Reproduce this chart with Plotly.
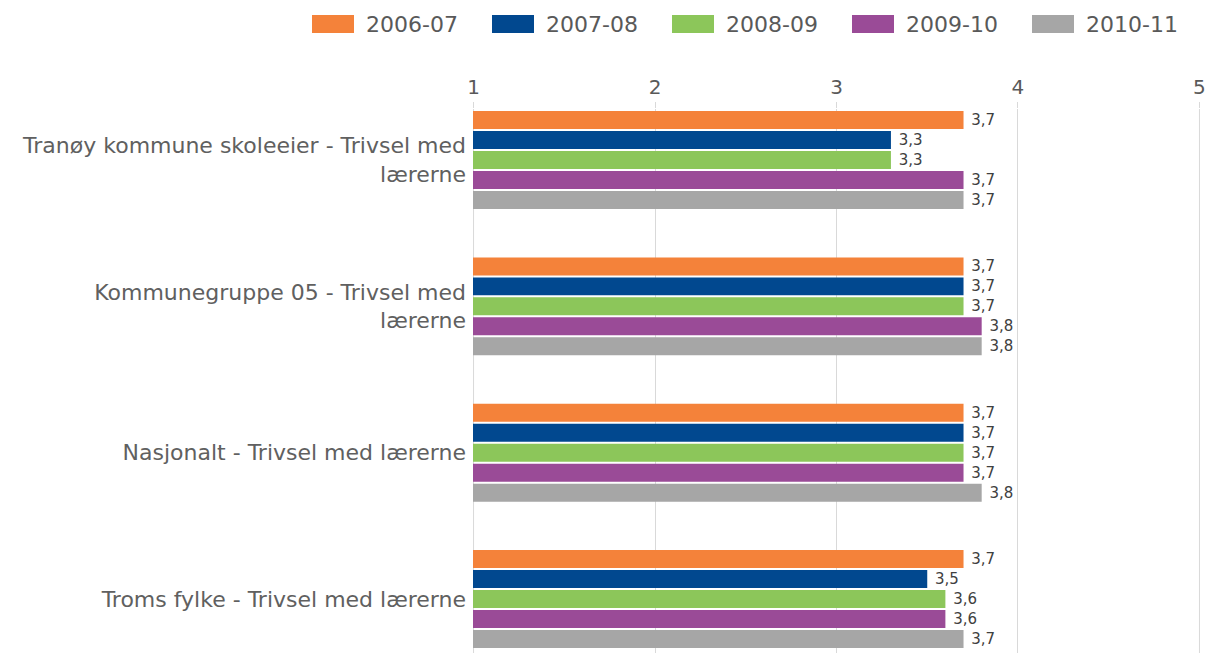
import plotly.graph_objects as go

categories = [
    "Tranøy kommune skoleeier - Trivsel med<br>lærerne",
    "Kommunegruppe 05 - Trivsel med<br>lærerne",
    "Nasjonalt - Trivsel med lærerne",
    "Troms fylke - Trivsel med lærerne",
]
series_names = ["2006-07", "2007-08", "2008-09", "2009-10", "2010-11"]
values_2006_07 = [3.7, 3.7, 3.7, 3.7]
values_2007_08 = [3.3, 3.7, 3.7, 3.5]
values_2008_09 = [3.3, 3.7, 3.7, 3.6]
values_2009_10 = [3.7, 3.8, 3.7, 3.6]
values_2010_11 = [3.7, 3.8, 3.8, 3.7]
series_values = [values_2006_07, values_2007_08, values_2008_09, values_2009_10, values_2010_11]
colors = ["#F4823A", "#01488F", "#8CC65A", "#9A4B97", "#A6A6A6"]
tick_vals = [1, 2, 3, 4, 5]

# page body has an 8px margin; figure coordinates are offset by it
W, H = 1221, 653
L, R, T, B = 465, 29, 101, 0
pw, ph = W - L - R, H - T - B

fig = go.Figure()
for name, vals, col in zip(series_names, series_values, colors):
    fig.add_trace(go.Bar(
        y=categories, x=vals, name=name, orientation="h",
        marker=dict(color=col, line=dict(width=0)),
        text=vals, texttemplate=" %{x:.1f}", textposition="outside",
        constraintext="none", cliponaxis=False,
        textfont=dict(family="DejaVu Sans", size=15, color="#404040"),
        showlegend=False,
    ))

shapes = []
annotations = []
# edge gridlines (plotly hides grid lines at the plot edges)
for v in (tick_vals[0], tick_vals[-1]):
    shapes.append(dict(type="line", xref="x", yref="paper", x0=v, x1=v, y0=0, y1=1,
                       line=dict(color="#D9D9D9", width=1), layer="below"))

# custom legend (wide swatches)
def px2x(px):
    return (px - L) / pw
def py2y(py):
    return (H - B - py) / ph
for i, (name, col) in enumerate(zip(series_names, colors)):
    x0 = 304 + 180 * i
    shapes.append(dict(type="rect", xref="paper", yref="paper",
                       x0=px2x(x0), x1=px2x(x0 + 42), y0=py2y(25), y1=py2y(7),
                       fillcolor=col, line=dict(width=0)))
    annotations.append(dict(xref="paper", yref="paper", x=px2x(x0 + 52), y=py2y(16),
                            text=name, showarrow=False, xanchor="left", yanchor="middle",
                            font=dict(family="DejaVu Sans", size=22, color="#595959")))

fig.update_layout(
    width=W, height=H,
    margin=dict(l=L, r=R, t=T, b=B, pad=0),
    paper_bgcolor="white", plot_bgcolor="white",
    barmode="group", bargap=0.317, bargroupgap=0.1,
    separators=", ",
    shapes=shapes, annotations=annotations,
    xaxis=dict(range=[0.997, 5.003], side="top", tickvals=tick_vals,
               showgrid=True, gridcolor="#D9D9D9", gridwidth=1,
               ticks="outside", ticklen=6, tickcolor="#D9D9D9",
               zeroline=False, showline=False, automargin=False,
               tickfont=dict(family="DejaVu Sans", size=20, color="#595959")),
    yaxis=dict(range=[3.424, -0.349], showgrid=False, zeroline=False, showline=False,
               ticks="", ticklabelstandoff=6, automargin=False,
               tickfont=dict(family="DejaVu Sans", size=22, color="#606060")),
)

fig.write_html("out.html")
